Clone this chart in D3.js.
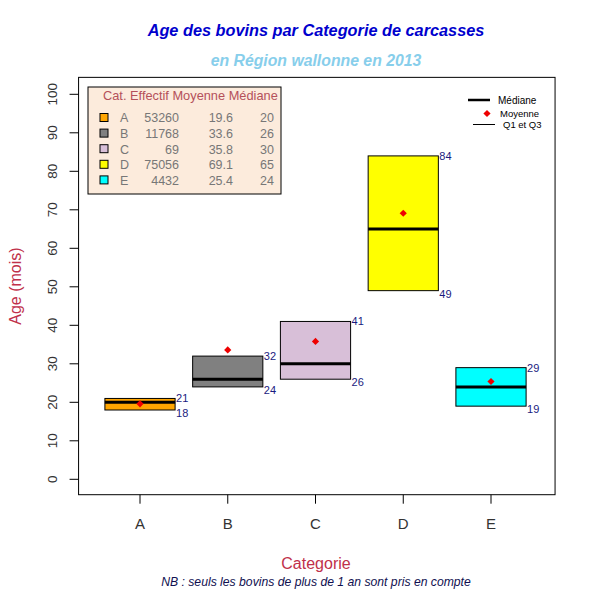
<!DOCTYPE html>
<html>
<head>
<meta charset="utf-8">
<script src="https://cdn.jsdelivr.net/npm/d3@7"></script>
<style>
  body { margin: 0; background: #fff; }
  text { font-family: "Liberation Sans", Arial, sans-serif; }
</style>
</head>
<body>
<svg width="594" height="593"></svg>
<script>
// donnees
const categories = ["A", "B", "C", "D", "E"];
const effectif = [53260, 11768, 69, 75056, 4432];
const moyenne = [19.6, 33.6, 35.8, 69.1, 25.4];
const mediane = [20, 26, 30, 65, 24];
const q1 = [18, 24, 26, 49, 19];
const q3 = [21, 32, 41, 84, 29];
const couleurs = ["#ffa500", "#808080", "#d8bfd8", "#ffff00", "#00ffff"];
const yTicks = [0, 10, 20, 30, 40, 50, 60, 70, 80, 90, 100];

const svg = d3.select("svg");

const x = d3.scaleLinear().domain([1, 5]).range([140, 491]);
const y = d3.scaleLinear().domain([0, 100]).range([479.3, 94.3]);
const x0 = x(0.3), x1 = x(5.73), yTop = y(104.4), yBot = y(-4);

// losange = carre tourne de 45 degres
const losange = d3.symbol(d3.symbolSquare, 26)();

// titres
svg.append("text").attr("x", 316).attr("y", 36).attr("text-anchor", "middle")
    .attr("font-size", 16.3).attr("font-weight", "bold").attr("font-style", "italic")
    .attr("fill", "#0000cd").text("Age des bovins par Categorie de carcasses");
svg.append("text").attr("x", 316).attr("y", 66).attr("text-anchor", "middle")
    .attr("font-size", 15.8).attr("font-weight", "bold").attr("font-style", "italic")
    .attr("fill", "#87ceeb").text("en Région wallonne en 2013");

// cadre
svg.append("rect").attr("x", x0).attr("y", yTop).attr("width", x1 - x0).attr("height", yBot - yTop)
    .attr("fill", "none").attr("stroke", "#000");

// axe y
const gy = svg.append("g");
yTicks.forEach(t => {
    gy.append("line").attr("x1", x0 - 9).attr("x2", x0).attr("y1", y(t)).attr("y2", y(t)).attr("stroke", "#000");
    gy.append("text").attr("transform", `translate(${x0 - 22},${y(t)}) rotate(-90)`)
        .attr("text-anchor", "middle").attr("font-size", 13.5).attr("fill", "#333").text(t);
});
svg.append("text").attr("transform", `translate(21,${(yTop + yBot) / 2}) rotate(-90)`)
    .attr("text-anchor", "middle").attr("font-size", 16).attr("fill", "#c0304a").text("Age (mois)");

// axe x
categories.forEach((c, i) => {
    svg.append("line").attr("x1", x(i + 1)).attr("x2", x(i + 1)).attr("y1", yBot).attr("y2", yBot + 9).attr("stroke", "#000");
    svg.append("text").attr("x", x(i + 1)).attr("y", 528.5).attr("text-anchor", "middle")
        .attr("font-size", 15).attr("fill", "#333").text(c);
});
svg.append("text").attr("x", 316).attr("y", 569).attr("text-anchor", "middle")
    .attr("font-size", 16).attr("fill", "#c0304a").text("Categorie");
svg.append("text").attr("x", 316).attr("y", 586).attr("text-anchor", "middle")
    .attr("font-size", 12.2).attr("font-style", "italic").attr("fill", "#101050")
    .text("NB : seuls les bovins de plus de 1 an sont pris en compte");

// boites
const hw = 0.4;
const boxes = svg.append("g");
categories.forEach((c, i) => {
    const cx = i + 1;
    boxes.append("rect").attr("x", x(cx - hw)).attr("y", y(q3[i]))
        .attr("width", x(cx + hw) - x(cx - hw)).attr("height", y(q1[i]) - y(q3[i]))
        .attr("fill", couleurs[i]).attr("stroke", "#000").attr("stroke-width", 1);
    boxes.append("line").attr("x1", x(cx - hw)).attr("x2", x(cx + hw))
        .attr("y1", y(mediane[i])).attr("y2", y(mediane[i])).attr("stroke", "#000").attr("stroke-width", 3);
    boxes.append("path").attr("d", losange)
        .attr("transform", `translate(${x(cx)},${y(moyenne[i])}) rotate(45)`).attr("fill", "#ee0000");
    boxes.append("text").attr("x", x(cx + hw) + 1).attr("y", y(q3[i])).attr("dy", "0.35em")
        .attr("font-size", 11).attr("fill", "#1a1a80").text(q3[i]);
    boxes.append("text").attr("x", x(cx + hw) + 1).attr("y", y(q1[i]) + 3).attr("dy", "0.35em")
        .attr("font-size", 11).attr("fill", "#1a1a80").text(q1[i]);
});

// legende tableau
const lg = svg.append("g");
lg.append("rect").attr("x", 88).attr("y", 87).attr("width", 193).attr("height", 107)
    .attr("fill", "#fcebdc").attr("stroke", "#000");
lg.append("text").attr("x", 103).attr("y", 100).attr("font-size", 12.8).attr("fill", "#b4505a")
    .text("Cat. Effectif Moyenne Médiane");
categories.forEach((c, i) => {
    const ry = 118 + i * 15.6;
    lg.append("rect").attr("x", 100).attr("y", ry - 4.5).attr("width", 8).attr("height", 8)
        .attr("fill", couleurs[i]).attr("stroke", "#000");
    lg.append("text").attr("x", 120).attr("y", ry).attr("dy", "0.35em").attr("font-size", 12.5).attr("fill", "#777").text(c);
    lg.append("text").attr("x", 179).attr("y", ry).attr("dy", "0.35em").attr("text-anchor", "end")
        .attr("font-size", 12.5).attr("fill", "#777").text(effectif[i]);
    lg.append("text").attr("x", 233).attr("y", ry).attr("dy", "0.35em").attr("text-anchor", "end")
        .attr("font-size", 12.5).attr("fill", "#777").text(moyenne[i].toFixed(1));
    lg.append("text").attr("x", 274).attr("y", ry).attr("dy", "0.35em").attr("text-anchor", "end")
        .attr("font-size", 12.5).attr("fill", "#777").text(mediane[i]);
});

// legende symboles
const ls = svg.append("g");
ls.append("line").attr("x1", 468).attr("x2", 490).attr("y1", 100).attr("y2", 100).attr("stroke", "#000").attr("stroke-width", 2.5);
ls.append("text").attr("x", 498).attr("y", 100.5).attr("dy", "0.35em").attr("font-size", 10).text("Médiane");
ls.append("path").attr("d", losange).attr("transform", "translate(487,113.5) rotate(45)").attr("fill", "#ee0000");
ls.append("text").attr("x", 500).attr("y", 113.5).attr("dy", "0.35em").attr("font-size", 9.5).text("Moyenne");
ls.append("line").attr("x1", 473).attr("x2", 495).attr("y1", 124.5).attr("y2", 124.5).attr("stroke", "#000").attr("stroke-width", 1);
ls.append("text").attr("x", 503).attr("y", 125).attr("dy", "0.35em").attr("font-size", 9.5).text("Q1 et Q3");
</script>
</body>
</html>
